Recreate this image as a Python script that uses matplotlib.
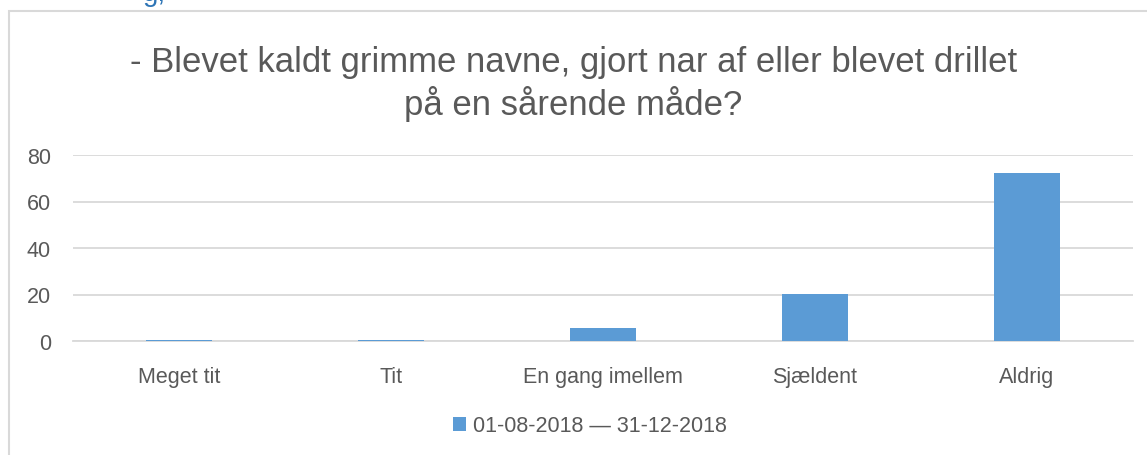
import matplotlib
matplotlib.use('Agg')
import numpy as np
import matplotlib.pyplot as plt
from matplotlib.patches import Rectangle

categories = ['Meget tit', 'Tit', 'En gang imellem', 'Sjældent', 'Aldrig']
values = [0.3, 0.6, 5.8, 20.2, 72.4]
series_label = '01-08-2018 \u2014 31-12-2018'
title = '- Blevet kaldt grimme navne, gjort nar af eller blevet drillet\npå en sårende måde?'
yticks = [0, 20, 40, 60, 80]

bar_color = '#5B9BD5'
grid_color = '#D9D9D9'
text_color = '#595959'

plt.rcParams['font.family'] = ['Liberation Sans', 'DejaVu Sans']

W, H = 1147, 456
fig = plt.figure(figsize=(W / 100, H / 100), dpi=100)
ax = fig.add_axes([73 / W, (H - 342) / H, 1060 / W, 186 / H])

x = np.arange(len(categories))
ax.bar(x, values, width=0.31, color=bar_color, zorder=3, label=series_label)
ax.set_xlim(-0.5, len(categories) - 0.5)
ax.set_ylim(0, 80)
ax.set_yticks(yticks)
ax.set_xticks(x)
ax.set_xticklabels(categories)
ax.yaxis.grid(True, color=grid_color, lw=1.3, zorder=0)
for s in ['top', 'right', 'left']:
  ax.spines[s].set_visible(False)
ax.spines['bottom'].set_color(grid_color)
ax.spines['bottom'].set_linewidth(1.3)
ax.tick_params(axis='both', length=0, colors=text_color, labelsize=15.5)
ax.tick_params(axis='y', pad=16)
ax.tick_params(axis='x', pad=18)

fig.text(0.5, (H - 84) / H, title, ha='center', va='center', fontsize=25,
         color=text_color, linespacing=1.22)

# chart area border (only top and left edges are inside the crop)
fig.patches.append(Rectangle((9 / W, -0.1), 1.2, (H - 12) / H + 0.1,
                             transform=fig.transFigure, fill=False,
                             edgecolor=grid_color, lw=1.5))
# clipped heading above the chart
fig.text(143 / W, (H - 1) / H, 'g,', color='#2E75B6', fontsize=20, va='baseline')

leg = fig.legend(loc='center', bbox_to_anchor=(590 / W, (H - 427) / H), frameon=False,
                 fontsize=15.5, handlelength=0.6, handleheight=0.6, handletextpad=0.3)
for t in leg.get_texts():
  t.set_color(text_color)

plt.savefig('out.png', dpi=100)
plt.close()
